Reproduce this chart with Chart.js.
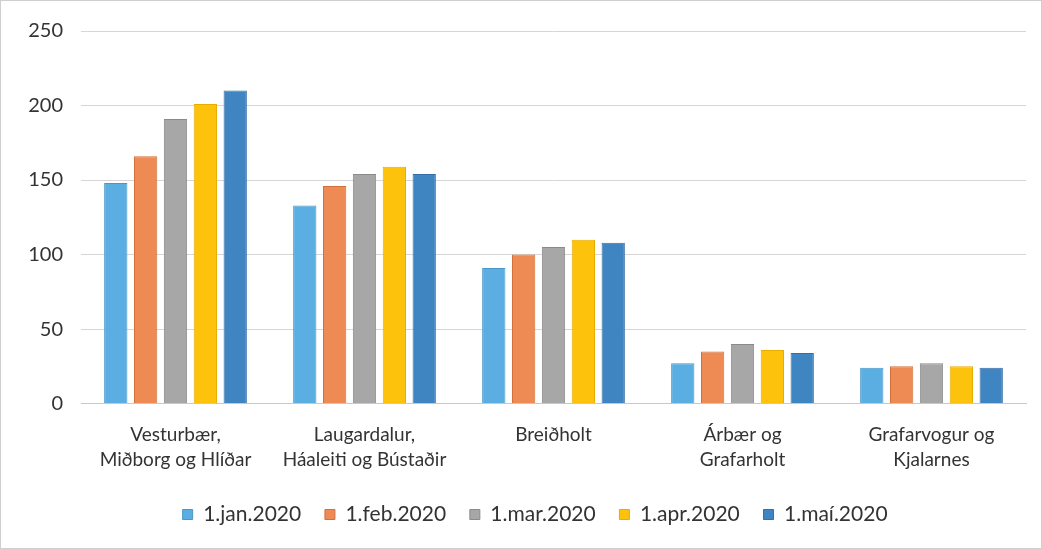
<!DOCTYPE html>
<html>
<head>
<meta charset="utf-8">
<script src="https://cdn.jsdelivr.net/npm/chart.js@4.4.1/dist/chart.umd.min.js"></script>
<style>
  html, body { margin: 0; padding: 0; background: #fff; }
  #wrap { position: relative; width: 1040px; height: 547px; border: 1px solid #cfcfcf; }
</style>
</head>
<body>
<div id="wrap"><canvas id="chart" width="1040" height="547"></canvas></div>
<script>
const categories = [
  ['Vesturbær,', 'Miðborg og Hlíðar'],
  ['Laugardalur,', 'Háaleiti og Bústaðir'],
  ['Breiðholt'],
  ['Árbær og', 'Grafarholt'],
  ['Grafarvogur og', 'Kjalarnes']
];
const seriesNames = ['1.jan.2020', '1.feb.2020', '1.mar.2020', '1.apr.2020', '1.maí.2020'];
const jan = [148, 133, 91, 27, 24];
const feb = [166, 146, 100, 35, 25];
const mar = [191, 154, 105, 40, 27];
const apr = [201, 159, 110, 36, 25];
const mai = [210, 154, 108, 34, 24];
const yTicks = [0, 50, 100, 150, 200, 250];

const fills = ['#5aaee2', '#ee8a53', '#a7a7a7', '#fdc20c', '#3f85c2'];
const edges = ['#4a96c8', '#d2703c', '#8a8a8a', '#e8ad00', '#356fa5'];
const values = [jan, feb, mar, apr, mai];

const datasets = seriesNames.map((name, i) => ({
  label: name,
  data: values[i],
  backgroundColor: fills[i],
  borderColor: edges[i],
  borderWidth: 1,
  categoryPercentage: 0.79,
  barPercentage: 0.78
}));

const font = 'Lato, "Open Sans", sans-serif';

// the legend in the original sits a bit right of centre
const shiftLegend = {
  id: 'shiftLegend',
  afterLayout(chart) {
    chart.legend.left += 27;
    chart.legend.right += 27;
  }
};

new Chart(document.getElementById('chart'), {
  type: 'bar',
  data: { labels: categories, datasets },
  plugins: [shiftLegend],
  options: {
    responsive: false,
    animation: false,
    layout: { padding: { left: 0, right: 15, top: 25, bottom: 13 } },
    plugins: {
      legend: {
        position: 'bottom',
        labels: {
          color: '#333',
          font: { family: font, size: 21 },
          boxWidth: 10,
          boxHeight: 10,
          padding: 13,
          generateLabels: chart => Chart.defaults.plugins.legend.labels.generateLabels(chart)
            .map(l => Object.assign(l, { text: l.text + '  ' }))
        }
      },
      tooltip: { enabled: false }
    },
    scales: {
      x: {
        grid: { display: false, drawTicks: false },
        border: { color: '#c8c8c8' },
        ticks: {
          color: '#333',
          font: { family: font, size: 19, lineHeight: 1.3 },
          padding: 19,
          maxRotation: 0,
          autoSkip: false
        }
      },
      y: {
        min: 0,
        max: 250,
        afterBuildTicks: s => { s.ticks = yTicks.map(v => ({ value: v })); },
        afterFit: s => { s.width = 80; },
        grid: { color: '#d6d6d6', drawTicks: false },
        border: { display: false },
        ticks: {
          color: '#333',
          font: { family: font, size: 20 },
          padding: 18
        }
      }
    }
  }
});
</script>
</body>
</html>
